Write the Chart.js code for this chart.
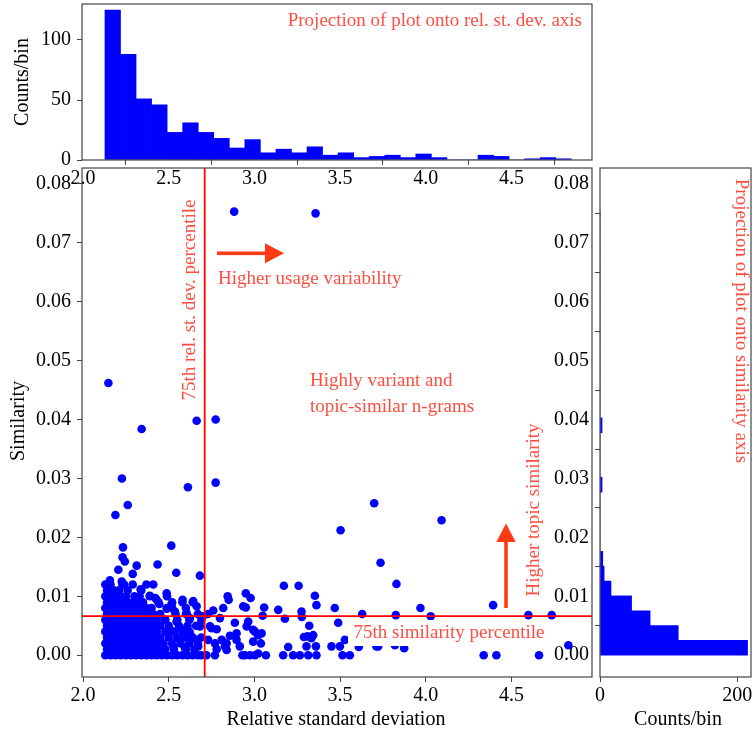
<!DOCTYPE html>
<html>
<head>
<meta charset="utf-8">
<title>Similarity vs relative standard deviation</title>
<script src="https://cdn.jsdelivr.net/npm/chart.js@4.4.1/dist/chart.umd.min.js"></script>
<style>
html, body { margin:0; padding:0; background:#ffffff; }
#fig { position:relative; width:753px; height:734px; overflow:hidden; background:#ffffff; }
#fig canvas { position:absolute; left:0; top:0; }
</style>
</head>
<body>
<div id="fig">
<canvas id="topHist" width="753" height="734"></canvas>
<canvas id="rightHist" width="753" height="734"></canvas>
<canvas id="mainPlot" width="753" height="734"></canvas>
</div>
<script>
// ---------------- data ----------------
const rsdTicks = [2.0, 2.5, 3.0, 3.5, 4.0, 4.5];
const simTicks = [0.00, 0.01, 0.02, 0.03, 0.04, 0.05, 0.06, 0.07, 0.08];
const topCountTicks = [0, 50, 100];
const rightCountTicks = [0, 200];

const rsdRange = [1.994, 4.97];
const simRange = [-0.0037, 0.0827];
const topCountMax = 130;
const rightCountMax = 220;

const rsdP75 = 2.71;      // 75th rel. st. dev. percentile
const simP75 = 0.00662;   // 75th similarity percentile

// histogram of relative standard deviation (30 bins)
const rsdBinStart = 2.128;
const rsdBinWidth = 0.0907;
const rsdCounts = [125, 88, 51, 46, 23, 31, 23, 18, 10, 17, 6, 9, 6, 11, 4, 6, 2, 3, 4, 2, 5, 2, 0, 0, 4, 3, 0, 1, 2, 1];

// histogram of similarity (30 bins)
const simBinStart = 0.0;
const simBinWidth = 0.002517;
const simCounts = [215, 114, 73, 46, 16, 6, 4, 0, 0, 0, 0, 3, 0, 0, 0, 3, 0, 0, 0, 0, 0, 0, 0, 0, 0, 0, 0, 0, 0, 0];

// dense cluster of n-grams: similarity level of each row and rel. st. dev. values in that row
const blobSim = [0.000, 0.001, 0.002, 0.003, 0.004, 0.005, 0.006, 0.007, 0.008, 0.009, 0.010, 0.011, 0.012];
const blobRsd = [
  [2.13,2.16,2.19,2.22,2.25,2.28,2.31,2.34,2.37,2.40,2.43,2.46,2.49,2.52,2.55,2.58,2.61,2.64,2.67],
  [2.14,2.17,2.20,2.23,2.26,2.29,2.32,2.35,2.38,2.41,2.44,2.48,2.53,2.60,2.65],
  [2.13,2.16,2.19,2.22,2.25,2.28,2.31,2.34,2.37,2.40,2.43,2.47,2.52,2.57,2.62,2.67],
  [2.14,2.17,2.20,2.23,2.26,2.29,2.32,2.35,2.38,2.41,2.45,2.50,2.55,2.60,2.64,2.69],
  [2.13,2.16,2.19,2.22,2.25,2.28,2.31,2.34,2.37,2.40,2.43,2.48,2.53,2.58,2.62],
  [2.14,2.17,2.20,2.23,2.26,2.29,2.32,2.35,2.38,2.41,2.45,2.50,2.56,2.61,2.66],
  [2.13,2.16,2.19,2.22,2.25,2.28,2.31,2.34,2.37,2.40,2.43,2.48,2.55,2.62,2.69],
  [2.14,2.17,2.20,2.23,2.26,2.29,2.32,2.35,2.38,2.41,2.45,2.54,2.60,2.67,2.73],
  [2.13,2.16,2.19,2.22,2.25,2.28,2.31,2.34,2.37,2.40,2.49,2.52,2.60],
  [2.14,2.17,2.20,2.23,2.26,2.29,2.32,2.35,2.44,2.52,2.58,2.64],
  [2.13,2.16,2.19,2.22,2.25,2.30,2.33,2.39,2.49],
  [2.14,2.18,2.21,2.26,2.34],
  [2.13,2.16,2.23,2.24,2.29,2.37,2.41]
];

// remaining individual n-grams: [rel. st. dev., similarity]
const sparsePoints = [
  [2.882,0.0753],[3.357,0.0750],[2.148,0.0462],[2.663,0.0398],[2.774,0.0400],[2.342,0.0384],
  [2.227,0.0300],[2.612,0.0285],[2.774,0.0293],[2.261,0.0255],[2.189,0.0238],[2.233,0.0183],
  [2.515,0.0186],[2.231,0.0166],[2.244,0.0159],[2.206,0.0145],[2.313,0.0152],[2.435,0.0154],
  [2.544,0.0140],[2.682,0.0135],[2.290,0.0138],[2.157,0.0127],[2.226,0.0125],[2.336,0.0112],
  [2.390,0.0101],[2.430,0.0094],[2.445,0.0087],
  [3.503,0.0212],[3.699,0.0258],[3.736,0.0157],[4.092,0.0229],[3.829,0.0121],[3.969,0.0080],
  [4.393,0.0085],[3.825,0.0068],[4.029,0.0066],[4.599,0.0068],[4.735,0.0068],[4.832,0.0017],
  [4.338,0.0000],[4.412,0.0000],[4.661,0.0000],[3.722,0.0015],[3.874,0.0012],[3.820,0.0017],
  [2.844,0.0100],[2.850,0.0094],[2.950,0.0105],[2.978,0.0097],[2.950,0.0081],[3.057,0.0081],
  [3.048,0.0067],[3.139,0.0077],[3.172,0.0118],[3.258,0.0118],[3.178,0.0062],[3.275,0.0074],
  [3.277,0.0065],[3.353,0.0101],[3.362,0.0085],[3.320,0.0050],[3.289,0.0031],[3.333,0.0029],
  [3.469,0.0080],[3.489,0.0055],[3.629,0.0070],[3.528,0.0026],[3.450,0.0015],[3.499,0.0015],
  [3.514,0.0000],[3.557,0.0000],[3.609,0.0014],[3.712,0.0015],[3.168,0.0000],[3.197,0.0014],
  [3.226,0.0000],[3.265,0.0000],[3.314,0.0000],[3.362,0.0000],[3.359,0.0015],[3.304,0.0015],
  [3.343,0.0034],[3.310,0.0032],[3.067,0.0000],[3.003,0.0000],[2.945,0.0000],[2.993,0.0023],
  [3.038,0.0020],[3.042,0.0037],[3.003,0.0040],[2.964,0.0057],[2.955,0.0049],[2.896,0.0037],
  [2.886,0.0055],[2.857,0.0033],[2.838,0.0020],[2.838,0.0009],[2.896,0.0026],[2.915,0.0015],
  [2.930,0.0000],[2.974,0.0000],[3.022,0.0003],[2.993,0.0043],[3.022,0.0034],[2.935,0.0083],
  [2.818,0.0080],[2.799,0.0063],[2.760,0.0076],[2.750,0.0046],[2.780,0.0044],[2.730,0.0026],
  [2.780,0.0010],[2.720,0.0000],[2.770,0.0000],[2.690,0.0000],[2.809,0.0026],[2.828,0.0015],
  [2.770,0.0020],[2.741,0.0049],
  [2.488,0.0105],[2.422,0.0097],[2.517,0.0087],[2.581,0.0094],[2.643,0.0092],[2.663,0.0083],
  [2.605,0.0071],[2.536,0.0074],[2.488,0.0079],[2.624,0.0063],[2.546,0.0057],[2.478,0.0060],
  [2.576,0.0043],[2.507,0.0043],[2.624,0.0037],[2.663,0.0026],[2.566,0.0026],[2.595,0.0012],
  [2.527,0.0015],[2.682,0.0049],[2.700,0.0066],[2.672,0.0015]
];

// ---------------- look ----------------
const FONT = "'Liberation Serif', 'Times New Roman', serif";
const TICK_SIZE = 20;
const TITLE_SIZE = 20;
const NOTE_SIZE = 19;
const NOTE_COLOR = '#ff4d40';
const ARROW_COLOR = '#ff3a14';
const LINE_COLOR = '#ff0000';
const MARK_COLOR = '#0000ff';
const FRAME_COLOR = '#444444';

const W = 753, H = 734;
const BOX = { left: 82, right: 592, mainTop: 168, mainBottom: 677, topTop: 4, topBottom: 160, rLeft: 600, rRight: 751 };

Chart.defaults.font.family = FONT;
Chart.defaults.color = '#000';

// ---------------- build tables ----------------
const scatterData = [];
blobSim.forEach((s, i) => blobRsd[i].forEach(r => scatterData.push({ x: r, y: s })));
sparsePoints.forEach(p => scatterData.push({ x: p[0], y: p[1] }));

const topBars = rsdCounts.map((c, i) => ({ x: rsdBinStart + (i + 0.5) * rsdBinWidth, y: c }));
const rightBars = simCounts.map((c, i) => ({ y: simBinStart + (i + 0.5) * simBinWidth, x: c }));

function axis(min, max, ticks, fmt, fit, pad) {
  return {
    type: 'linear', min: min, max: max, offset: false,
    afterBuildTicks: s => { s.ticks = ticks.map(v => ({ value: v })); },
    afterFit: s => { fit(s); s.paddingTop = 0; s.paddingBottom = 0; s.paddingLeft = 0; s.paddingRight = 0; },
    ticks: { callback: v => fmt(v), font: { family: FONT, size: TICK_SIZE }, color: '#000',
             padding: pad, autoSkip: false, maxRotation: 0, minRotation: 0 },
    grid: { display: true, drawOnChartArea: false, drawTicks: true, tickLength: 5, color: FRAME_COLOR, lineWidth: 1 },
    border: { display: false }
  };
}
const f1 = v => v.toFixed(1), f2 = v => v.toFixed(2), f0 = v => String(v);

function text(ctx, s, x, y, o) {
  ctx.save();
  ctx.translate(x, y);
  if (o.rot) ctx.rotate(o.rot);
  ctx.font = (o.size || NOTE_SIZE) + 'px ' + FONT;
  ctx.fillStyle = o.color || '#000';
  ctx.textAlign = o.align || 'center';
  ctx.textBaseline = 'middle';
  ctx.fillText(s, 0, 0);
  ctx.restore();
}
function arrowRight(ctx, x0, x1, y, headLen, headHalf, shaft) {
  ctx.save(); ctx.fillStyle = ARROW_COLOR;
  ctx.fillRect(x0, y - shaft / 2, x1 - headLen - x0 + 1, shaft);
  ctx.beginPath(); ctx.moveTo(x1, y); ctx.lineTo(x1 - headLen, y - headHalf); ctx.lineTo(x1 - headLen, y + headHalf); ctx.closePath(); ctx.fill();
  ctx.restore();
}
function arrowUp(ctx, x, y0, y1, headLen, headHalf, shaft) {
  ctx.save(); ctx.fillStyle = ARROW_COLOR;
  ctx.fillRect(x - shaft / 2, y1 + headLen - 1, shaft, y0 - (y1 + headLen) + 1);
  ctx.beginPath(); ctx.moveTo(x, y1); ctx.lineTo(x - headHalf, y1 + headLen); ctx.lineTo(x + headHalf, y1 + headLen); ctx.closePath(); ctx.fill();
  ctx.restore();
}

const framePlugin = {
  id: 'frame',
  afterDraw(chart) {
    const a = chart.chartArea, ctx = chart.ctx;
    ctx.save(); ctx.strokeStyle = FRAME_COLOR; ctx.lineWidth = 1.2;
    ctx.strokeRect(a.left, a.top, a.right - a.left, a.bottom - a.top);
    ctx.restore();
  }
};

const common = { responsive: false, animation: false, events: [], devicePixelRatio: 1,
  plugins: { legend: { display: false }, tooltip: { enabled: false } } };

// ---------------- top histogram ----------------
new Chart(document.getElementById('topHist'), {
  type: 'bar',
  data: { datasets: [{ data: topBars, backgroundColor: MARK_COLOR, borderWidth: 0,
                       barPercentage: 1, categoryPercentage: 1 }] },
  options: Object.assign({}, common, {
    layout: { padding: { left: 0, right: W - BOX.right, top: BOX.topTop, bottom: 0 } },
    scales: {
      x: axis(rsdRange[0], rsdRange[1], rsdTicks, f1, s => { s.height = H - BOX.topBottom; }, 2),
      y: axis(0, topCountMax, topCountTicks, f0, s => { s.width = BOX.left; }, 6)
    }
  }),
  plugins: [framePlugin, {
    id: 'topDecor',
    afterDraw(chart) {
      const ctx = chart.ctx;
      text(ctx, 'Counts/bin', 23, 82, { rot: -Math.PI / 2, size: TITLE_SIZE });
      text(ctx, 'Projection of plot onto rel. st. dev. axis', 582, 21, { align: 'right', color: NOTE_COLOR });
    }
  }]
});

// ---------------- right histogram ----------------
new Chart(document.getElementById('rightHist'), {
  type: 'bar',
  data: { datasets: [{ data: rightBars, backgroundColor: MARK_COLOR, borderWidth: 0,
                       barPercentage: 1, categoryPercentage: 1 }] },
  options: Object.assign({}, common, {
    indexAxis: 'y',
    layout: { padding: { left: 0, right: W - BOX.rRight, top: BOX.mainTop, bottom: 0 } },
    scales: {
      x: axis(0, rightCountMax, rightCountTicks, f0, s => { s.height = H - BOX.mainBottom; }, 2),
      y: axis(simRange[0], simRange[1], simTicks, f2, s => { s.width = BOX.rLeft; }, 6)
    }
  }),
  plugins: [framePlugin, {
    id: 'rightDecor',
    afterDraw(chart) {
      const ctx = chart.ctx;
      text(ctx, 'Counts/bin', 678, 720, { size: TITLE_SIZE });
      text(ctx, 'Projection of plot onto similarity axis', 741, 321, { rot: Math.PI / 2, color: NOTE_COLOR });
    }
  }]
});

// ---------------- main scatter ----------------
new Chart(document.getElementById('mainPlot'), {
  type: 'scatter',
  data: { datasets: [{ data: scatterData, pointRadius: 4.3, pointHoverRadius: 4.3,
                       backgroundColor: MARK_COLOR, borderWidth: 0 }] },
  options: Object.assign({}, common, {
    layout: { padding: { left: 0, right: W - BOX.right, top: BOX.mainTop, bottom: 0 } },
    scales: {
      x: axis(rsdRange[0], rsdRange[1], rsdTicks, f1, s => { s.height = H - BOX.mainBottom; }, 2),
      y: axis(simRange[0], simRange[1], simTicks, f2, s => { s.width = BOX.left; }, 6)
    }
  }),
  plugins: [framePlugin, {
    id: 'mainDecor',
    afterDatasetsDraw(chart) {
      const ctx = chart.ctx, a = chart.chartArea;
      const px = chart.scales.x.getPixelForValue(rsdP75);
      const py = chart.scales.y.getPixelForValue(simP75);
      ctx.save();
      ctx.strokeStyle = LINE_COLOR; ctx.lineWidth = 1.8;
      ctx.beginPath(); ctx.moveTo(px, a.top); ctx.lineTo(px, a.bottom); ctx.stroke();
      ctx.beginPath(); ctx.moveTo(a.left, py); ctx.lineTo(a.right, py); ctx.stroke();
      ctx.restore();

      // white box behind the similarity-percentile label
      ctx.save(); ctx.fillStyle = '#ffffff'; ctx.fillRect(348, 620, 204, 26); ctx.restore();
      text(ctx, '75th similarity percentile', 449, 633, { color: NOTE_COLOR });

      text(ctx, '75th rel. st. dev. percentile', 190, 300, { rot: -Math.PI / 2, color: NOTE_COLOR });
      arrowRight(ctx, 217, 284, 253.3, 19, 10, 3.6);
      text(ctx, 'Higher usage variability', 218, 279, { align: 'left', color: NOTE_COLOR });
      text(ctx, 'Highly variant and', 310, 381, { align: 'left', color: NOTE_COLOR });
      text(ctx, 'topic-similar n-grams', 310, 407, { align: 'left', color: NOTE_COLOR });
      arrowUp(ctx, 506, 608, 523.5, 18.5, 9.7, 3.6);
      text(ctx, 'Higher topic similarity', 534, 510, { rot: -Math.PI / 2, color: NOTE_COLOR });

      text(ctx, 'Relative standard deviation', 336, 720, { size: TITLE_SIZE });
      text(ctx, 'Similarity', 19, 421, { rot: -Math.PI / 2, size: TITLE_SIZE });
    }
  }]
});
</script>
</body>
</html>
